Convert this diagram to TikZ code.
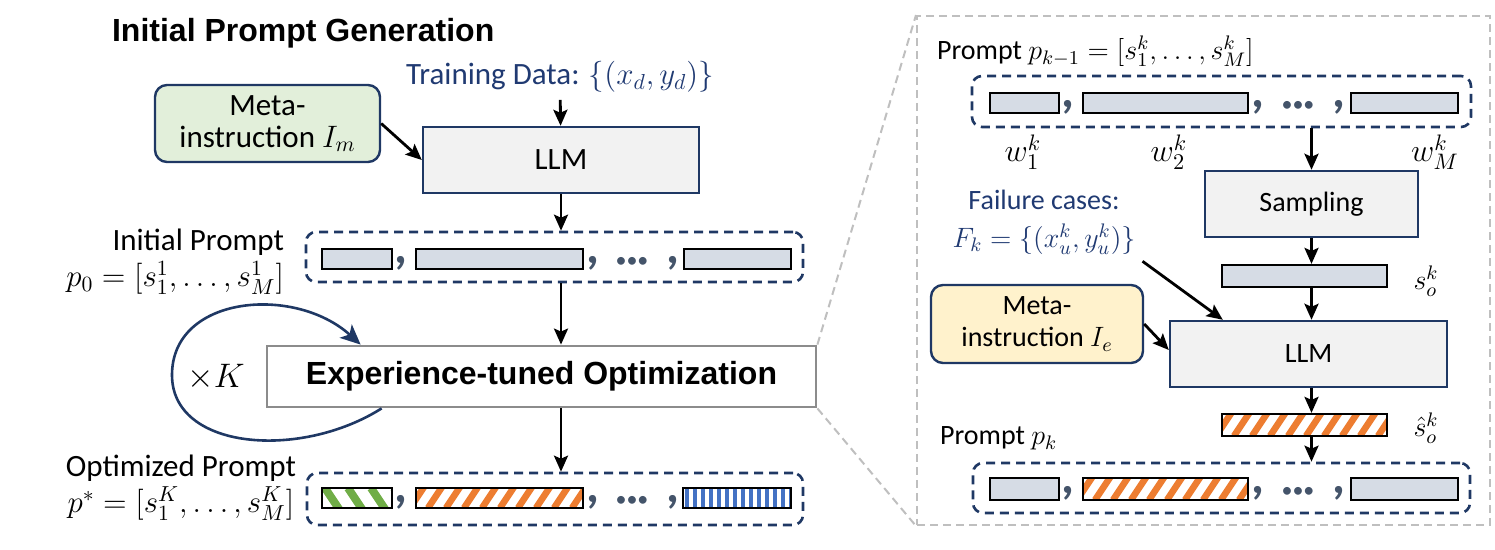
\RequirePackage{fix-cm}
\documentclass[tikz,border=0pt]{standalone}
\usepackage{fontspec}
\setmainfont{Carlito}
\newfontfamily\headfont{Liberation Sans}
\usetikzlibrary{arrows.meta}
\definecolor{navy}{HTML}{1F3864}
\definecolor{dblue}{HTML}{203A72}
\definecolor{llmgray}{HTML}{F2F2F2}
\definecolor{segfill}{HTML}{D6DCE5}
\definecolor{slate}{HTML}{44546A}
\definecolor{metagreen}{HTML}{E2EFDA}
\definecolor{metayellow}{HTML}{FFF2CC}
\definecolor{optgray}{HTML}{8C8C8C}
\definecolor{zoomgray}{HTML}{BFBFBF}
\definecolor{hatchorange}{HTML}{ED7D31}
\definecolor{hatchgreen}{HTML}{70AD47}
\definecolor{hatchblue}{HTML}{4472C4}
\newcommand\headsize{\fontsize{16}{18}\selectfont}
\newcommand\sepsize{\fontsize{25}{25}\selectfont}
\newcommand\dotsize{\fontsize{11}{11}\selectfont}
\tikzstyle{flow}=[line width=1.4pt,-{Stealth[length=8pt,width=7pt,inset=1.5pt]}]
\tikzstyle{loopflow}=[draw=navy,line width=1.3pt,-{Stealth[length=10pt,width=9pt,inset=2.5pt]}]
\tikzstyle{llmbox}=[draw=navy,fill=llmgray,line width=1.2pt,inner sep=0pt]
\tikzstyle{metabox}=[draw=navy,line width=1.2pt,rounded corners=6pt,align=center,inner sep=0pt]
\tikzstyle{row}=[draw=navy,line width=1.3pt,dash pattern=on 4.5pt off 3pt,rounded corners=5pt,inner sep=0pt]
\tikzstyle{seg}=[draw=black,line width=1.1pt,inner sep=0pt,minimum height=10pt]
\tikzstyle{oldseg}=[seg,fill=segfill]
\tikzstyle{newseg}=[seg,path picture={\foreach \s in {0,...,12}
  \draw[hatchorange,line width=3.3pt] ([xshift=\s*9pt-12pt]path picture bounding box.south west) -- ++(8pt,12pt);}]
\tikzstyle{greenseg}=[seg,path picture={\foreach \s in {0,...,5}
  \draw[hatchgreen,line width=4pt] ([xshift=\s*11.5pt-10pt]path picture bounding box.north west) -- ++(8pt,-12pt);}]
\tikzstyle{blueseg}=[seg,path picture={\foreach \s in {0,...,13}
  \draw[hatchblue,line width=2.4pt] ([xshift=\s*4pt+2pt]path picture bounding box.south west) -- ++(0pt,12pt);}]
\tikzstyle{sep}=[text=slate,font=\bfseries\sepsize,inner sep=0pt,anchor=base]
\tikzstyle{dotsep}=[text=slate,font=\dotsize,inner sep=0pt]
\tikzstyle{zoomline}=[draw=zoomgray,line width=1pt,dash pattern=on 4pt off 2.5pt]
\begin{document}
\begin{tikzpicture}[x=0.5pt,y=-0.5pt,font=\fontsize{15.5}{17}\selectfont]
\useasboundingbox (0,0) rectangle (1495,550);
% initial prompt generation
\node[anchor=base west,font=\headfont\bfseries\headsize] (title) at (105,42) {Initial Prompt Generation};
\node[anchor=base,text=dblue] (data) at (560,85) {Training Data: $\{(x_d,y_d)\}$};
\node[llmbox,minimum width=138pt,minimum height=33pt] (llm1) at (561,160) {LLM};
\node[metabox,fill=metagreen,minimum width=112.5pt,minimum height=38.5pt,font=\fontsize{15.5}{16}\selectfont] (meta1) at (267.5,123.5) {Meta-\\instruction $I_m$};
\node[anchor=east,align=right,font=\fontsize{15.5}{18}\selectfont] (p0lbl) at (291,262) {Initial Prompt\\$p_0=[s_1^1,\dots,s_M^1]$};
\node[row,minimum width=248.5pt,minimum height=25pt] (p0) at (554.5,257) {};
\node[oldseg,minimum width=35pt] (p0a) at (357,259) {};
\node[oldseg,minimum width=83.5pt] (p0b) at (499.5,259) {};
\node[oldseg,minimum width=53.5pt] (p0c) at (737.5,259) {};
\foreach \x/\n in {401/a,593/b,673/c}
  \node[sep] (p0sep\n) at (\x,264) {,};
\node[dotsep] (p0dots) at (632,262) {•••};
\draw[flow] (data) -- (llm1);
\draw[flow] (meta1.east) -- (llm1.west);
\draw[flow] (llm1) -- (p0.north -| llm1);
% optimization loop
\node[draw=optgray,line width=1.4pt,minimum width=274.5pt,minimum height=30.5pt,font=\headfont\bfseries\headsize] (opt) at (541.5,376.5) {Experience-tuned Optimization};
\draw[flow] (p0.south -| llm1) -- (opt.north -| llm1);
\draw[loopflow] ([xshift=58pt]opt.south west) .. controls (300,460) and (172,450) .. (172,375)
  .. controls (172,295) and (295,285) .. ([xshift=47.5pt]opt.north west);
\node[font=\fontsize{17}{17}\selectfont] (times) at (216,377) {$\times K$};
\node[anchor=east,align=center,font=\fontsize{15.5}{18}\selectfont] (pstarlbl) at (303,488) {Optimized Prompt\\$p^*=[s_1^K,\dots,s_M^K]$};
\node[row,minimum width=248pt,minimum height=26pt] (pstar) at (555,499) {};
\node[greenseg,minimum width=35pt] (psa) at (357,498) {};
\node[newseg,minimum width=83.5pt] (psb) at (499.5,498) {};
\node[blueseg,minimum width=54pt] (psc) at (737,498) {};
\foreach \x/\n in {401/a,593/b,673/c}
  \node[sep] (pssep\n) at (\x,503) {,};
\node[dotsep] (psdots) at (632,501) {•••};
\draw[flow] (opt.south -| llm1) -- (pstar.north -| llm1);
% zoomed panel
\node[draw=zoomgray,line width=1pt,dash pattern=on 4pt off 2.5pt,minimum width=286.5pt,minimum height=254.5pt,inner sep=0pt] (panel) at (1203.5,270.5) {};
\draw[zoomline] (opt.north east) -- (panel.north west);
\draw[zoomline] (opt.south east) -- (panel.south west);
\begin{scope}[font=\fontsize{14}{17}\selectfont]
\node[anchor=base west] (pk1lbl) at (930,60) {Prompt $p_{k-1}=[s_1^k,\dots,s_M^k]$};
\node[row,minimum width=249.5pt,minimum height=25.5pt] (pk1) at (1221.5,101.5) {};
\node[oldseg,minimum width=34.5pt] (pk1a) at (1024.5,103) {};
\node[oldseg,minimum width=82.5pt] (pk1b) at (1165.5,103) {};
\node[oldseg,minimum width=53.5pt] (pk1c) at (1404.5,103) {};
\foreach \x/\n in {1068/a,1258/b,1339/c}
  \node[sep] (pk1sep\n) at (\x,108) {,};
\node[dotsep] (pk1dots) at (1298,106) {•••};
\node[font=\fontsize{16}{16}\selectfont] (w1) at (1023,152) {$w_1^k$};
\node[font=\fontsize{16}{16}\selectfont] (w2) at (1169,152) {$w_2^k$};
\node[font=\fontsize{16}{16}\selectfont] (wm) at (1435,152) {$w_M^k$};
\node[llmbox,minimum width=106.5pt,minimum height=33pt] (samp) at (1311.5,204) {Sampling};
\node[text=dblue,align=center,font=\fontsize{14}{19}\selectfont] (fail) at (1044,222) {Failure cases:\\$F_k=\{(x_u^k,y_u^k)\}$};
\node[oldseg,minimum width=82.5pt,minimum height=11pt] (so) at (1304.5,276) {};
\node[inner sep=1pt] (solbl) at (1426,281) {$s_o^k$};
\node[llmbox,minimum width=138.5pt,minimum height=33pt] (llm2) at (1308.5,354) {LLM};
\node[metabox,fill=metayellow,minimum width=106pt,minimum height=39pt,font=\fontsize{14}{16}\selectfont] (meta2) at (1037,324) {Meta-\\instruction $I_e$};
\node[newseg,minimum width=82.5pt,minimum height=11pt] (hat) at (1304.5,425) {};
\node[inner sep=1pt] (hatlbl) at (1426,428) {$\hat{s}_o^k$};
\node[anchor=base west] (pklbl) at (933,445) {Prompt $p_k$};
\node[row,minimum width=248.5pt,minimum height=25pt] (pk) at (1221.5,488) {};
\node[oldseg,minimum width=34.5pt,minimum height=11pt] (pka) at (1024.5,489) {};
\node[newseg,minimum width=82.5pt,minimum height=11pt] (pkb) at (1165.5,489) {};
\node[oldseg,minimum width=53.5pt,minimum height=11pt] (pkc) at (1404.5,489) {};
\foreach \x/\n in {1068/a,1258/b,1339/c}
  \node[sep] (pksep\n) at (\x,494) {,};
\node[dotsep] (pkdots) at (1298,492) {•••};
\end{scope}
\draw[flow] (pk1.south -| samp) -- (samp);
\draw[flow] (samp) -- (so.north -| samp);
\draw[flow] (so.south -| samp) -- (llm2.north -| samp);
\draw[flow] (fail.south east) -- ([xshift=27pt]llm2.north west);
\draw[flow] (meta2.east) -- ([yshift=2pt]llm2.west);
\draw[flow] (llm2.south -| samp) -- (hat.north -| samp);
\draw[flow] (hat.south -| samp) -- (pk.north -| samp);
\end{tikzpicture}
\end{document}
